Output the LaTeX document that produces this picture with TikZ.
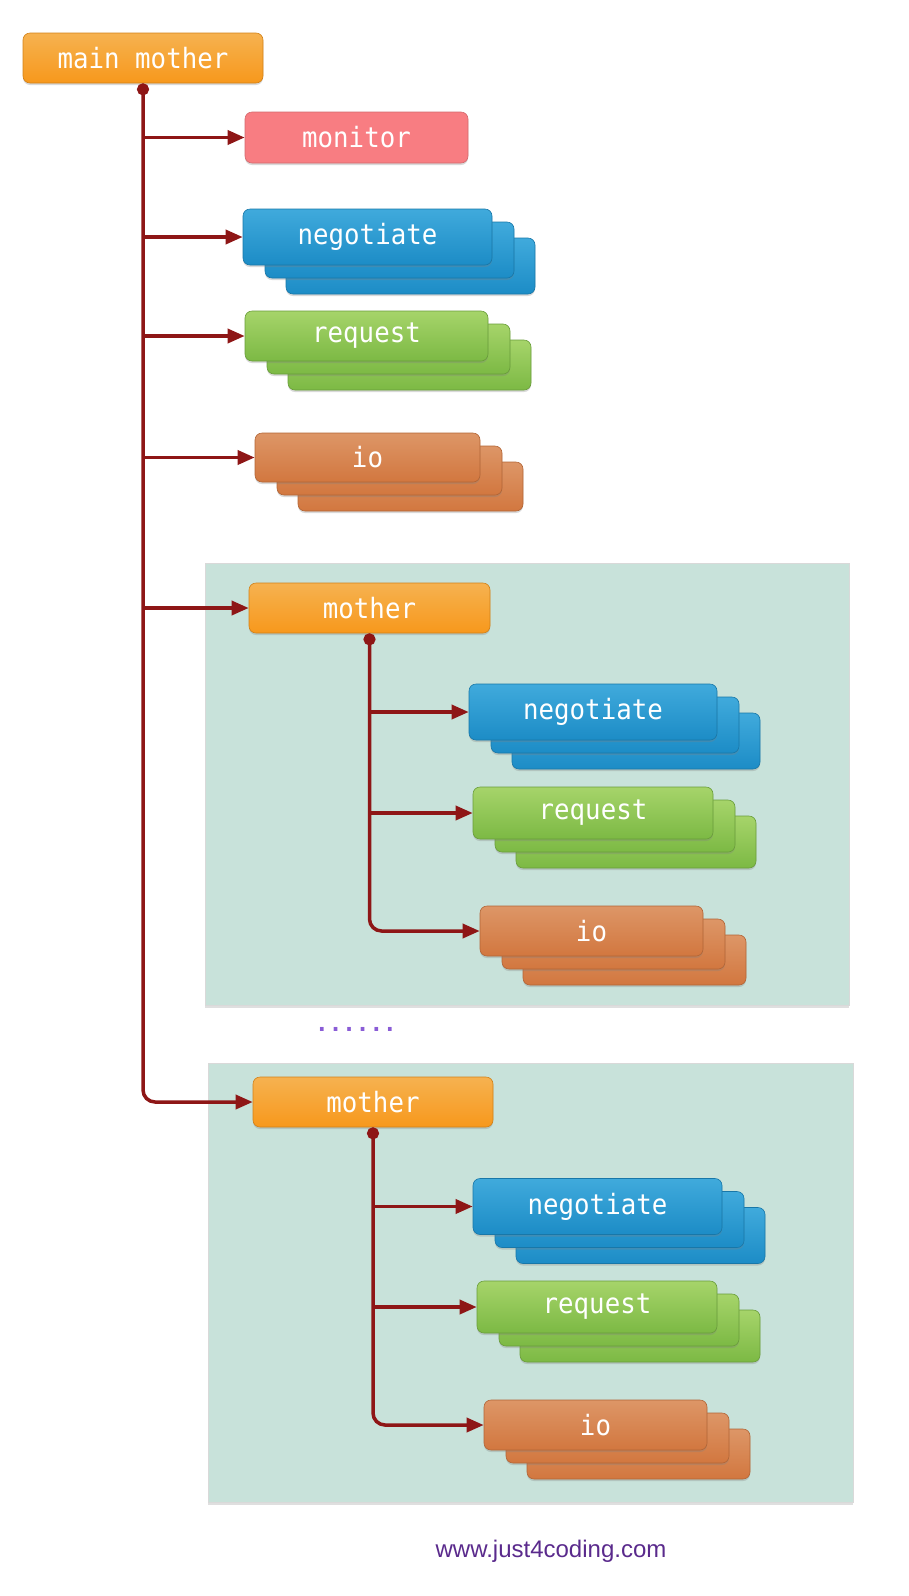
\documentclass[tikz,border=0pt]{standalone}
\usepackage{fontspec}
\setmainfont{Liberation Sans}
\newfontfamily\boxfont[FakeStretch=0.92]{DejaVu Sans Mono}
\newfontfamily\dotfont{DejaVu Sans Mono}
\usetikzlibrary{arrows.meta,shadows}
\definecolor{connc}{RGB}{142,22,22}
\definecolor{orT}{RGB}{246,178,80}
\definecolor{orB}{RGB}{247,152,28}
\definecolor{pinkc}{RGB}{248,125,130}
\definecolor{blT}{RGB}{64,170,220}
\definecolor{blB}{RGB}{28,140,198}
\definecolor{grT}{RGB}{166,212,106}
\definecolor{grB}{RGB}{124,185,68}
\definecolor{ioT}{RGB}{221,150,103}
\definecolor{ioB}{RGB}{210,119,63}
\definecolor{panelc}{RGB}{200,226,218}
\definecolor{dotc}{RGB}{138,92,214}
\definecolor{wmc}{RGB}{90,42,140}
\tikzset{
  box/.style={rounded corners=7pt, text=white, inner sep=0pt,
    font=\boxfont\fontsize{28}{32}\selectfont,
    drop shadow={shadow xshift=0pt,shadow yshift=-2pt,opacity=0.3}},
  orangebox/.style={box, top color=orT, bottom color=orB, draw=orB!85!black, line width=0.6pt},
  pinkbox/.style={box, fill=pinkc, draw=pinkc!85!black, line width=0.6pt},
  bluebox/.style={box, top color=blT, bottom color=blB, draw=blB!85!black, line width=0.6pt},
  greenbox/.style={box, top color=grT, bottom color=grB, draw=grB!85!black, line width=0.6pt},
  iobox/.style={box, top color=ioT, bottom color=ioB, draw=ioB!85!black, line width=0.6pt},
  panel/.style={fill=panelc, draw=black!15, line width=0.8pt, inner sep=0pt,
    drop shadow={shadow xshift=0pt,shadow yshift=-3pt,opacity=0.25}},
  wire/.style={draw=connc, line width=3.5pt},
  arr/.style={wire, -{Triangle[length=17pt,width=14pt]}},
  trunk/.style={wire, {Circle[length=12pt]}-{Triangle[length=17pt,width=14pt]}, rounded corners=12pt},
}
\newcommand\stk[7]{%
  \node[#2, minimum width=#5pt, minimum height=#6pt] (#1-c) at (#3+43,#4+29) {};
  \node[#2, minimum width=#5pt, minimum height=#6pt] (#1-b) at (#3+22,#4+13) {};
  \node[#2, minimum width=#5pt, minimum height=#6pt] (#1) at (#3,#4) {#7};
}
\begin{document}
\begin{tikzpicture}[x=1pt,y=-1pt]
\useasboundingbox (0,0) rectangle (908,1596);
% panels
\node[panel, minimum width=644pt, minimum height=442pt] (panel1) at (527,784) {};
\node[panel, minimum width=645pt, minimum height=439pt] (panel2) at (530.5,1282.5) {};
% top level
\node[orangebox, minimum width=240pt, minimum height=50pt] (main) at (143,58) {main mother};
\node[pinkbox, minimum width=223pt, minimum height=51pt] (monitor) at (356.5,137.5) {monitor};
\stk{neg1}{bluebox}{367.5}{237}{249}{56}{negotiate}
\stk{req1}{greenbox}{366.5}{336}{243}{50}{request}
\stk{io1}{iobox}{367.5}{457.5}{225}{49}{io}
% panel 1
\node[orangebox, minimum width=241pt, minimum height=50pt] (mother1) at (369.5,608) {mother};
\stk{neg2}{bluebox}{593}{712}{248}{56}{negotiate}
\stk{req2}{greenbox}{593}{813}{240}{52}{request}
\stk{io2}{iobox}{591.5}{931}{223}{50}{io}
% dots
\node[font=\dotfont\bfseries\fontsize{22.6}{26}\selectfont, text=dotc, inner sep=0pt] (dots) at (356,1029) {......};
% panel 2
\node[orangebox, minimum width=240pt, minimum height=50pt] (mother2) at (373,1102) {mother};
\stk{neg3}{bluebox}{597.5}{1206.5}{249}{56}{negotiate}
\stk{req3}{greenbox}{597}{1307}{240}{52}{request}
\stk{io3}{iobox}{595.5}{1425}{223}{50}{io}
% watermark
\node[font=\fontsize{24}{28}\selectfont, text=wmc, inner sep=0pt] (wm) at (551,1551) {www.just4coding.com};
% connectors: main trunk
\draw[trunk] (main.south) |- (mother2.west);
\draw[arr] (main.south |- monitor.west) -- (monitor.west);
\draw[arr] (main.south |- neg1.west) -- (neg1.west);
\draw[arr] (main.south |- req1.west) -- (req1.west);
\draw[arr] (main.south |- io1.west) -- (io1.west);
\draw[arr] (main.south |- mother1.west) -- (mother1.west);
% panel 1 trunk
\draw[trunk] (mother1.south) |- (io2.west);
\draw[arr] (mother1.south |- neg2.west) -- (neg2.west);
\draw[arr] (mother1.south |- req2.west) -- (req2.west);
% panel 2 trunk
\draw[trunk] (mother2.south) |- (io3.west);
\draw[arr] (mother2.south |- neg3.west) -- (neg3.west);
\draw[arr] (mother2.south |- req3.west) -- (req3.west);
\end{tikzpicture}
\end{document}
